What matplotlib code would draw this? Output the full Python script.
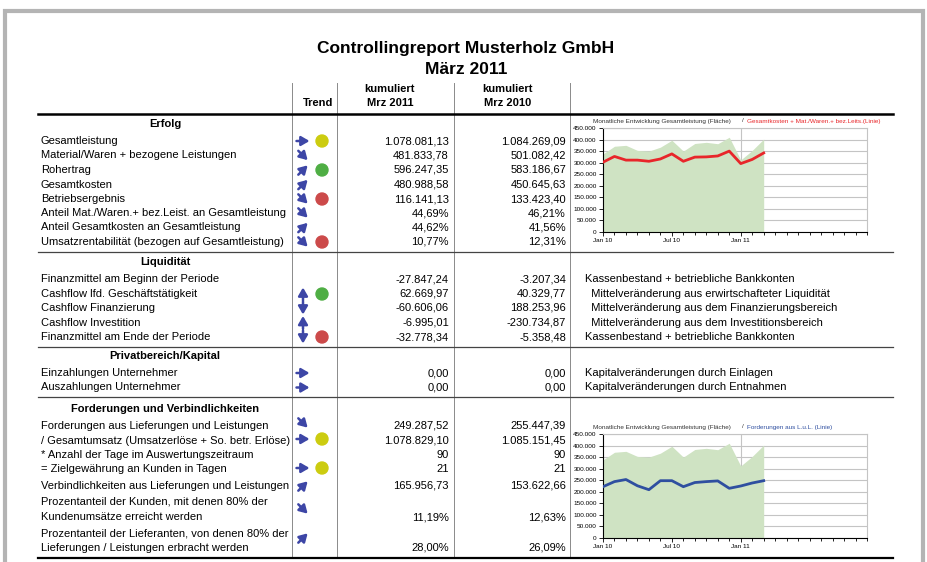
import matplotlib
matplotlib.use("Agg")
import matplotlib.pyplot as plt
from matplotlib.patches import Circle
from matplotlib.ticker import FuncFormatter
import numpy as np

plt.rcParams["font.family"] = ["Liberation Sans", "DejaVu Sans"]

INK = "#000000"; ARROW = "#3d46a6"; FRAME = "#b4b4b4"; GRIDC = "#c4c4c4"
AREA = "#cfe3c3"; RED = "#e8262a"; BLUE = "#2f4fa0"
DOTS = {"y": "#cccc10", "g": "#4fae44", "r": "#cc4a4a"}

# ---- table data -------------------------------------------------------
erfolg_labels = ["Gesamtleistung", "Material/Waren + bezogene Leistungen", "Rohertrag",
                 "Gesamtkosten", "Betriebsergebnis",
                 "Anteil Mat./Waren.+ bez.Leist. an Gesamtleistung",
                 "Anteil Gesamtkosten an Gesamtleistung",
                 "Umsatzrentabilität (bezogen auf Gesamtleistung)"]
erfolg_2011 = ["1.078.081,13", "481.833,78", "596.247,35", "480.988,58", "116.141,13",
               "44,69%", "44,62%", "10,77%"]
erfolg_2010 = ["1.084.269,09", "501.082,42", "583.186,67", "450.645,63", "133.423,40",
               "46,21%", "41,56%", "12,31%"]
erfolg_trend = [("R", "y"), ("SE", None), ("NE", "g"), ("NE", None), ("SE", "r"),
                ("SE", None), ("NE", None), ("SE", "r")]

liq_labels = ["Finanzmittel am Beginn der Periode", "Cashflow lfd. Geschäftstätigkeit",
              "Cashflow Finanzierung", "Cashflow Investition",
              "Finanzmittel am Ende der Periode"]
liq_2011 = ["-27.847,24", "62.669,97", "-60.606,06", "-6.995,01", "-32.778,34"]
liq_2010 = ["-3.207,34", "40.329,77", "188.253,96", "-230.734,87", "-5.358,48"]
liq_notes = ["Kassenbestand + betriebliche Bankkonten",
             "  Mittelveränderung aus erwirtschafteter Liquidität",
             "  Mittelveränderung aus dem Finanzierungsbereich",
             "  Mittelveränderung aus dem Investitionsbereich",
             "Kassenbestand + betriebliche Bankkonten"]
liq_trend = [(None, None), ("U", "g"), ("D", None), ("U", None), ("D", "r")]

priv_labels = ["Einzahlungen Unternehmer", "Auszahlungen Unternehmer"]
priv_2011 = ["0,00", "0,00"]
priv_2010 = ["0,00", "0,00"]
priv_notes = ["Kapitalveränderungen durch Einlagen", "Kapitalveränderungen durch Entnahmen"]
priv_trend = [("R", None), ("R", None)]

ford_labels = ["Forderungen aus Lieferungen und Leistungen",
               "/ Gesamtumsatz (Umsatzerlöse + So. betr. Erlöse)",
               "* Anzahl der Tage im Auswertungszeitraum",
               "= Zielgewährung an Kunden in Tagen",
               "Verbindlichkeiten aus Lieferungen und Leistungen",
               "Prozentanteil der Kunden, mit denen 80% der\nKundenumsätze erreicht werden",
               "Prozentanteil der Lieferanten, von denen 80% der\nLieferungen / Leistungen erbracht werden"]
ford_2011 = ["249.287,52", "1.078.829,10", "90", "21", "165.956,73", "11,19%", "28,00%"]
ford_2010 = ["255.447,39", "1.085.151,45", "90", "21", "153.622,66", "12,63%", "26,09%"]
ford_trend = [("SE", None), ("R", "y"), (None, None), ("R", "y"), ("NE", None),
              ("SE", None), ("NE", None)]

# ---- monthly chart data (Jan 10 .. Mar 11) ----------------------------
months = ["Jan 10", "Feb 10", "Mrz 10", "Apr 10", "Mai 10", "Jun 10", "Jul 10", "Aug 10",
          "Sep 10", "Okt 10", "Nov 10", "Dez 10", "Jan 11", "Feb 11", "Mrz 11"]
gesamtleistung = [338000, 371000, 375000, 353000, 350000, 367000, 397000, 350000,
                  383000, 388000, 382000, 410000, 312000, 353000, 402000]
kosten_material = [302000, 327000, 311000, 311000, 306000, 316000, 338000, 306000,
                   324000, 325000, 329000, 350000, 296000, 314000, 342000]
forderungen = [222000, 244000, 253000, 226000, 209000, 248000, 248000, 222000,
               240000, 244000, 247000, 215000, 225000, 238000, 248000]

fig = plt.figure(figsize=(9.28, 5.62), dpi=100)
ax = fig.add_axes([0, 0, 1, 1])
ax.set_xlim(0, 928); ax.set_ylim(562, 0); ax.axis("off")

# page frame
ax.plot([5, 5, 923, 923], [562, 11, 11, 562], color=FRAME, lw=3, solid_joinstyle="miter")

ax.text(466, 48, "Controllingreport Musterholz GmbH", ha="center", va="center",
        fontsize=12.5, fontweight="bold")
ax.text(466, 70, "März 2011", ha="center", va="center", fontsize=12.5, fontweight="bold")

ax.text(318, 103, "Trend", ha="center", va="center", fontsize=8, fontweight="bold")
for cx, yr in [(390, "Mrz 2011"), (508, "Mrz 2010")]:
    ax.text(cx, 89, "kumuliert", ha="center", va="center", fontsize=8, fontweight="bold")
    ax.text(cx, 103, yr, ha="center", va="center", fontsize=8, fontweight="bold")

# grid lines of the table
for x in (292, 337, 454, 570):
    ax.plot([x, x], [83, 557], color="#8a8a8a", lw=0.7)
ax.plot([38, 893], [114, 114], color=INK, lw=1.8)
for y in (252, 347, 397):
    ax.plot([38, 893], [y, y], color="#444444", lw=0.9)
ax.plot([38, 893], [558, 558], color=INK, lw=1.6)


def arrow(d, y, x=303):
    vec = {"R": (1, 0), "SE": (0.72, 0.72), "NE": (0.72, -0.72),
           "U": (0, -1), "D": (0, 1)}[d]
    L = 13
    x0, y0 = x - vec[0] * L / 2, y - vec[1] * L / 2
    x1, y1 = x + vec[0] * L / 2, y + vec[1] * L / 2
    ax.annotate("", xy=(x1, y1), xytext=(x0, y0),
                arrowprops=dict(arrowstyle="-|>,head_length=0.6,head_width=0.35",
                                color=ARROW, lw=1.8, shrinkA=0, shrinkB=0,
                                mutation_scale=8))


def section(title, ty, labels, v11, v10, trend, ys, notes=None, trend_ys=None):
    ax.text(165, ty, title, ha="center", va="center", fontsize=8, fontweight="bold")
    for i, (lab, a, b) in enumerate(zip(labels, v11, v10)):
        y = ys[i]
        if "\n" in lab:
            l1, l2 = lab.split("\n")
            ax.text(41, y - 15, l1, va="center", fontsize=8)
            ax.text(41, y, l2, va="center", fontsize=8)
        else:
            ax.text(41, y, lab, va="center", fontsize=8)
        ax.text(449, y, a, ha="right", va="center", fontsize=8)
        ax.text(566, y, b, ha="right", va="center", fontsize=8)
        if notes:
            ax.text(585, y, notes[i], va="center", fontsize=8)
        d, c = trend[i]
        yt = trend_ys[i] if trend_ys else y
        if d:
            arrow(d, yt)
        if c:
            ax.add_patch(Circle((322, yt), 6, color=DOTS[c], zorder=3))


section("Erfolg", 124, erfolg_labels, erfolg_2011, erfolg_2010, erfolg_trend,
        [141, 155.5, 170, 184.5, 199, 213, 227.5, 242])
section("Liquidität", 262, liq_labels, liq_2011, liq_2010, liq_trend,
        [279, 294, 308, 322.5, 337], notes=liq_notes)
section("Privatbereich/Kapital", 356, priv_labels, priv_2011, priv_2010, priv_trend,
        [373, 387.5], notes=priv_notes)
section("Forderungen und Verbindlichkeiten", 409, ford_labels, ford_2011, ford_2010,
        ford_trend, [426, 440.5, 455, 469, 486, 517, 548],
        trend_ys=[423, 439, 455, 468, 486, 509, 538])


def mini_chart(top, line, color, legend):
    x0, x1, y_bot = 603, 867, top + 104
    cax = fig.add_axes([x0 / 928, 1 - y_bot / 562, (x1 - x0) / 928, 104 / 562])
    xs = np.arange(len(months))
    cax.fill_between(xs, 0, gesamtleistung, color=AREA, lw=0, zorder=2)
    cax.plot(xs, line, color=color, lw=2, zorder=3)
    cax.set_xlim(0, 23.0); cax.set_ylim(0, 450000)
    cax.set_yticks(np.arange(0, 450001, 50000))
    cax.yaxis.set_major_formatter(FuncFormatter(lambda v, p: f"{int(v):,}".replace(",", ".")))
    cax.set_xticks([0, 6, 12]); cax.set_xticklabels([months[0], "Jul 10", months[12]])
    cax.set_xticks(np.arange(0, 24), minor=True)
    cax.tick_params(labelsize=4.6, length=3, width=0.6, pad=1.5)
    cax.tick_params(axis="x", which="minor", length=2, width=0.6)
    cax.grid(axis="y", color=GRIDC, lw=0.8, zorder=0)
    cax.axvline(12, color=GRIDC, lw=0.8, zorder=1)
    cax.set_axisbelow(True)
    for s in ("top", "right"):
        cax.spines[s].set_color(GRIDC)
    for s in ("left", "bottom"):
        cax.spines[s].set_linewidth(0.8)
    ax.text(593, top - 7, "Monatliche Entwicklung Gesamtleistung (Fläche)", fontsize=4.6,
            color="#333333", va="center")
    ax.text(742, top - 7, "/", fontsize=4.6, color="#333333", va="center")
    ax.text(747, top - 7, legend, fontsize=4.6, color=color, va="center")


mini_chart(128, kosten_material, RED, "Gesamtkosten + Mat./Waren.+ bez.Leits.(Linie)")
mini_chart(434, forderungen, BLUE, "Forderungen aus L.u.L. (Linie)")

fig.savefig("out.png", dpi=100)
